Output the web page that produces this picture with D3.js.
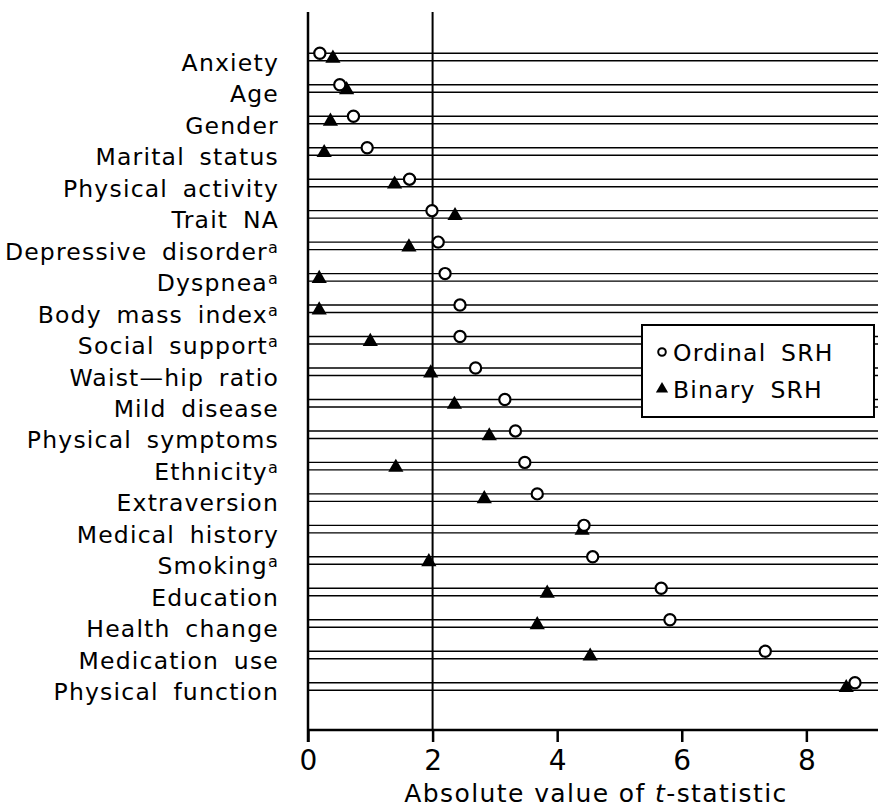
<!DOCTYPE html>
<html>
<head>
<meta charset="utf-8">
<script src="https://cdn.jsdelivr.net/npm/d3@7"></script>
<style>
  html, body { margin: 0; padding: 0; background: #fff; }
  svg { display: block; }
  text { font-family: "DejaVu Sans", sans-serif; fill: #000; }
</style>
</head>
<body>
<svg id="chart" width="878" height="808"></svg>
<script>
const categories = ["Anxiety", "Age", "Gender", "Marital status", "Physical activity", "Trait NA",
  "Depressive disorder", "Dyspnea", "Body mass index", "Social support", "Waist\u2014hip ratio",
  "Mild disease", "Physical symptoms", "Ethnicity", "Extraversion", "Medical history", "Smoking",
  "Education", "Health change", "Medication use", "Physical function"];
const footnoted = [false, false, false, false, false, false, true, true, true, true, false,
  false, false, true, false, false, true, false, false, false, false];
const ordinalSRH = [0.19, 0.51, 0.73, 0.95, 1.63, 1.99, 2.09, 2.20, 2.44, 2.44, 2.69,
  3.16, 3.33, 3.48, 3.68, 4.43, 4.57, 5.67, 5.81, 7.34, 8.78];
const binarySRH = [0.40, 0.62, 0.36, 0.26, 1.39, 2.36, 1.62, 0.18, 0.18, 1.00, 1.97,
  2.35, 2.91, 1.41, 2.83, 4.40, 1.94, 3.84, 3.68, 4.53, 8.64];
const xTicks = [0, 2, 4, 6, 8];
const refValue = 2;
const seriesNames = ["Ordinal SRH", "Binary SRH"];

const svg = d3.select("#chart");
const x = d3.scaleLinear().domain([0, 9.15]).range([308, 878]);
const y = d3.scalePoint().domain(categories).range([53.3, 682.7]);
const gap = 7.5;
const axisY = 730, topY = 12;

// horizontal row lines
const rows = svg.append("g");
categories.forEach(c => {
  [0, gap].forEach(off => {
    rows.append("line")
      .attr("x1", x(0)).attr("x2", 878)
      .attr("y1", y(c) + off).attr("y2", y(c) + off)
      .attr("stroke", "#000").attr("stroke-width", 1.4);
  });
});

// reference line at 2
svg.append("line").attr("x1", x(refValue)).attr("x2", x(refValue))
  .attr("y1", topY).attr("y2", axisY).attr("stroke", "#000").attr("stroke-width", 2);

// y axis line
svg.append("line").attr("x1", x(0)).attr("x2", x(0))
  .attr("y1", topY).attr("y2", axisY + 12).attr("stroke", "#000").attr("stroke-width", 2.5);

// x axis
const xAxis = d3.axisBottom(x).tickValues(xTicks).tickSize(12).tickPadding(8).tickSizeOuter(0);
const gx = svg.append("g").attr("transform", `translate(0,${axisY})`).call(xAxis);
gx.select(".domain").attr("stroke-width", 2.5).attr("d", `M${x(0)},0H878`);
gx.selectAll(".tick line").attr("stroke-width", 2.5);
gx.selectAll(".tick text").attr("font-size", 28).attr("font-family", "DejaVu Sans").attr("fill", "#000");

// axis title
const title = svg.append("text").attr("x", 596).attr("y", 802).attr("text-anchor", "middle")
  .attr("font-size", 25).attr("letter-spacing", 1.4);
title.append("tspan").text("Absolute value of ");
title.append("tspan").attr("font-style", "italic").text("t");
title.append("tspan").text("-statistic");

// category labels
const labels = svg.append("g");
categories.forEach((c, i) => {
  const t = labels.append("text").attr("x", 279).attr("y", y(c) + 17.5)
    .attr("text-anchor", "end").attr("font-size", 23.5).attr("letter-spacing", 1.2).attr("word-spacing", 6);
  t.append("tspan").text(c);
  if (footnoted[i]) t.append("tspan").attr("font-size", 16).attr("dy", -7).text("a");
});

// points
const tri = d3.symbol().type(d3.symbolTriangle).size(100);
svg.append("g").selectAll("path").data(categories).join("path")
  .attr("d", tri)
  .attr("transform", (c, i) => `translate(${x(binarySRH[i])},${y(c) + gap - 2.5})`)
  .attr("fill", "#000");
svg.append("g").selectAll("circle").data(categories).join("circle")
  .attr("cx", (c, i) => x(ordinalSRH[i])).attr("cy", c => y(c))
  .attr("r", 5.6).attr("fill", "#fff").attr("stroke", "#000").attr("stroke-width", 2.2);

// legend
const lg = svg.append("g");
lg.append("rect").attr("x", 642).attr("y", 325).attr("width", 232).attr("height", 92)
  .attr("fill", "#fff").attr("stroke", "#000").attr("stroke-width", 2);
lg.append("circle").attr("cx", 662).attr("cy", 352).attr("r", 3.8)
  .attr("fill", "#fff").attr("stroke", "#000").attr("stroke-width", 2);
lg.append("path").attr("d", d3.symbol().type(d3.symbolTriangle).size(65))
  .attr("transform", "translate(662,389)").attr("fill", "#000");
lg.append("text").attr("x", 673).attr("y", 361).attr("font-size", 23.5).attr("letter-spacing", 1.2)
  .attr("word-spacing", 6).text(seriesNames[0]);
lg.append("text").attr("x", 673).attr("y", 398).attr("font-size", 23.5).attr("letter-spacing", 1.2)
  .attr("word-spacing", 6).text(seriesNames[1]);
</script>
</body>
</html>
